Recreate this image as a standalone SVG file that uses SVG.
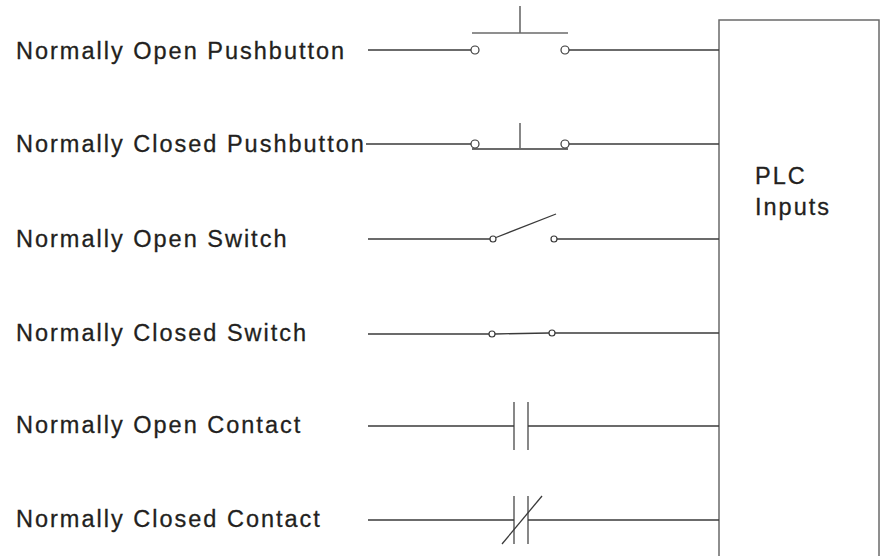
<svg xmlns="http://www.w3.org/2000/svg" width="881" height="556" viewBox="0 0 881 556">
<style>
.lbl{font-family:"Liberation Sans",Arial,sans-serif;font-size:23.5px;fill:#231f20;stroke:#231f20;stroke-width:0.3;letter-spacing:2px}
.ln{stroke:#3a3a3a;stroke-width:1.3;fill:none}
.g{stroke:#6a6a6a;stroke-width:1.6;fill:none}
.c{stroke:#3a3a3a;stroke-width:1.2;fill:#fff}
</style>
<rect width="881" height="556" fill="#fff"/>
<g id="plc">
<rect x="719" y="20" width="160" height="560" fill="#fff" stroke="#6a6a6a" stroke-width="1.5"/>
<text class="lbl" x="755" y="184">PLC</text>
<text class="lbl" x="755" y="215">Inputs</text>
</g>
<g id="no-pushbutton">
<text class="lbl" x="16" y="59">Normally Open Pushbutton</text>
<line class="g" x1="472" y1="33" x2="568" y2="33"/>
<line class="g" x1="520" y1="6" x2="520" y2="33"/>
<circle class="c" cx="475" cy="50" r="4"/>
<circle class="c" cx="565" cy="50" r="4"/>
</g>
<g id="nc-pushbutton">
<text class="lbl" x="16" y="152">Normally Closed Pushbutton</text>
<circle class="c" cx="475" cy="144" r="4"/>
<circle class="c" cx="565" cy="144" r="4"/>
<line class="ln" x1="472" y1="149" x2="568" y2="149"/>
<line class="g" x1="520" y1="123" x2="520" y2="149"/>
</g>
<g id="no-switch">
<text class="lbl" x="16" y="247">Normally Open Switch</text>
<line class="ln" x1="496" y1="237.5" x2="556" y2="214"/>
<circle class="c" cx="493" cy="239" r="3"/>
<circle class="c" cx="554" cy="239" r="3"/>
</g>
<g id="nc-switch">
<text class="lbl" x="16" y="341">Normally Closed Switch</text>
<line class="ln" x1="495" y1="334" x2="549" y2="333"/>
<circle class="c" cx="492" cy="334" r="3"/>
<circle class="c" cx="552" cy="333" r="3"/>
</g>
<g id="no-contact">
<text class="lbl" x="16" y="433">Normally Open Contact</text>
<line class="g" x1="514" y1="402" x2="514" y2="450"/>
<line class="g" x1="528" y1="402" x2="528" y2="450"/>
</g>
<g id="nc-contact">
<text class="lbl" x="16" y="527">Normally Closed Contact</text>
<line class="g" x1="514" y1="496" x2="514" y2="544"/>
<line class="g" x1="528" y1="496" x2="528" y2="544"/>
<line class="ln" x1="502" y1="544" x2="542" y2="496"/>
</g>
<g id="connectors">
<line class="ln" x1="368" y1="50" x2="471" y2="50"/>
<line class="ln" x1="569" y1="50" x2="719" y2="50"/>
<line class="ln" x1="366" y1="144" x2="471" y2="144"/>
<line class="ln" x1="569" y1="144" x2="719" y2="144"/>
<line class="ln" x1="368" y1="239" x2="490" y2="239"/>
<line class="ln" x1="557" y1="239" x2="719" y2="239"/>
<line class="ln" x1="368" y1="334" x2="489" y2="334"/>
<line class="ln" x1="555" y1="333" x2="719" y2="333"/>
<line class="ln" x1="368" y1="426" x2="514" y2="426"/>
<line class="ln" x1="528" y1="426" x2="719" y2="426"/>
<line class="ln" x1="368" y1="520" x2="514" y2="520"/>
<line class="ln" x1="528" y1="520" x2="719" y2="520"/>
</g>
</svg>
